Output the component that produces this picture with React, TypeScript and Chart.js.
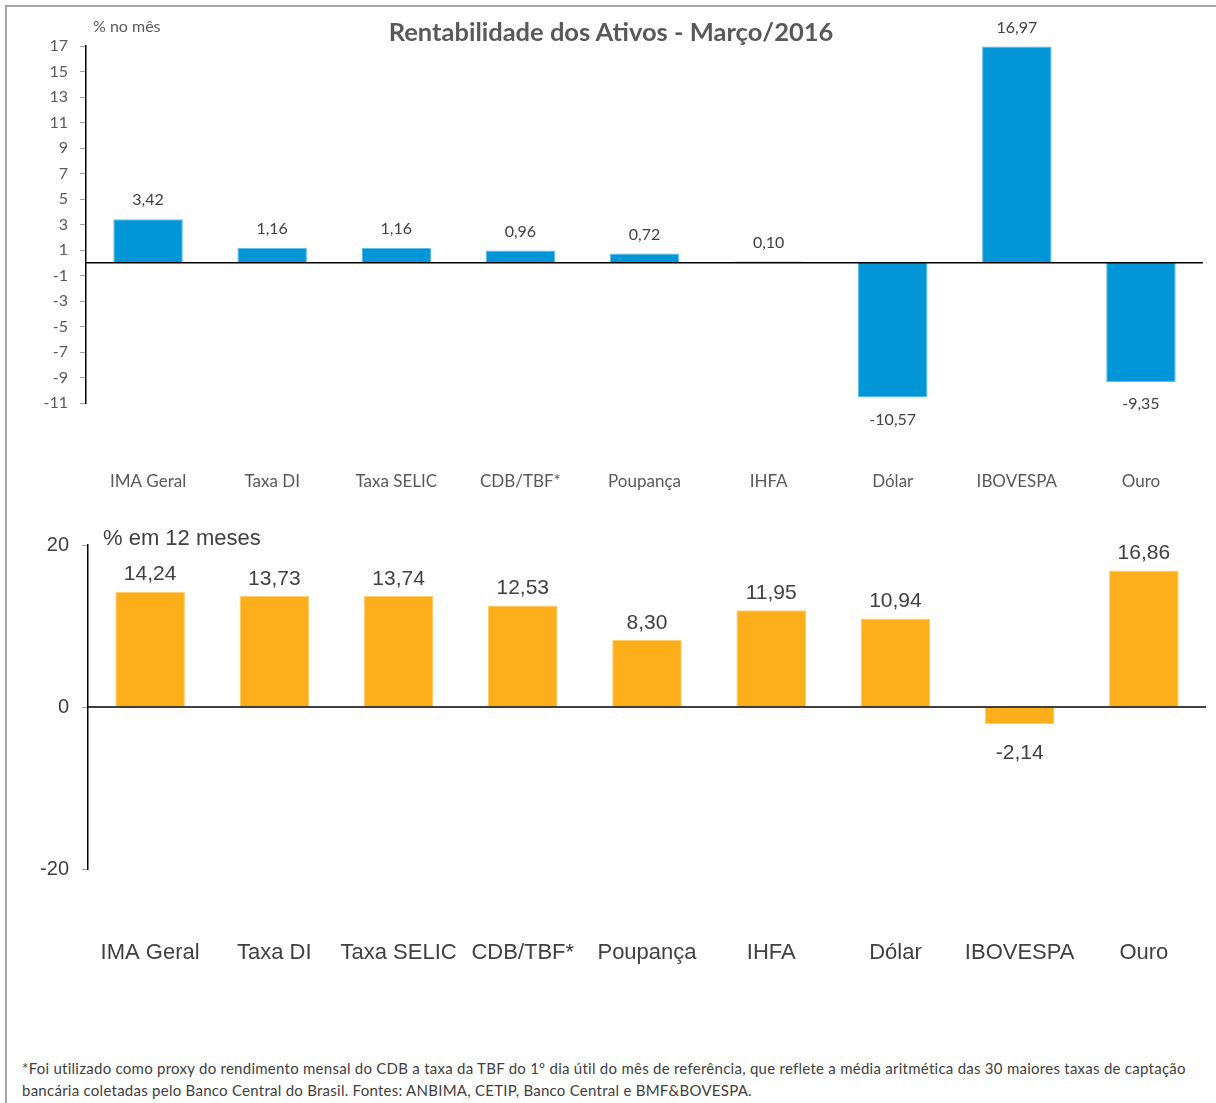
import React, { useEffect, useRef } from "react";
import { Chart, registerables } from "chart.js";

Chart.register(...registerables);

const categories = [
  "IMA Geral",
  "Taxa DI",
  "Taxa SELIC",
  "CDB/TBF*",
  "Poupança",
  "IHFA",
  "Dólar",
  "IBOVESPA",
  "Ouro",
];
const monthValues = [3.42, 1.16, 1.16, 0.96, 0.72, 0.1, -10.57, 16.97, -9.35];
const yearValues = [14.24, 13.73, 13.74, 12.53, 8.3, 11.95, 10.94, -2.14, 16.86];

const monthAxisMin = -11;
const monthAxisMax = 17;
const monthAxisStep = 2;
const yearAxisMin = -20;
const yearAxisMax = 20;
const yearAxisStep = 20;

const titleText = "Rentabilidade dos Ativos - Março/2016";
const monthUnit = "% no mês";
const yearUnit = "% em 12 meses";
const footnoteLines = [
  "*Foi utilizado como proxy do rendimento mensal do CDB a taxa da TBF do 1º dia útil do mês de referência, que reflete a média aritmética das 30 maiores taxas de captação",
  "bancária coletadas pelo Banco Central do Brasil. Fontes: ANBIMA, CETIP, Banco Central e BMF&BOVESPA.",
];

const CAL = "Lato, 'Open Sans', sans-serif";
const ARIAL = "'Liberation Sans', Arial, sans-serif";

function fmt(v: number) {
  return v.toFixed(2).replace(".", ",");
}

function makePlugin(o: { font: string; color: string; above: number; below: number }) {
  return {
    id: "zeroAndLabels",
    afterDatasetsDraw(chart: any) {
      const { ctx, chartArea, scales } = chart;
      const y0 = scales.y.getPixelForValue(0);
      ctx.save();
      ctx.strokeStyle = "#000";
      ctx.lineWidth = 1.5;
      ctx.beginPath();
      ctx.moveTo(chartArea.left, y0);
      ctx.lineTo(chartArea.right, y0);
      ctx.stroke();
      const meta = chart.getDatasetMeta(0);
      const data = chart.data.datasets[0].data as number[];
      ctx.font = o.font;
      ctx.fillStyle = o.color;
      ctx.textAlign = "center";
      ctx.textBaseline = "middle";
      meta.data.forEach((bar: any, i: number) => {
        const v = data[i];
        const y = v >= 0 ? bar.y - o.above : bar.y + o.below;
        ctx.fillText(fmt(v), bar.x, y);
      });
      ctx.restore();
    },
  };
}

type Cfg = {
  values: number[];
  color: string;
  edge: string;
  min: number;
  max: number;
  step: number;
  yWidth: number;
  xHeight: number;
  padTop: number;
  padRight: number;
  xDrop: number;
  xFont: any;
  xColor: string;
  yFont: any;
  yColor: string;
  yPad: number;
  label: { font: string; color: string; above: number; below: number };
};

function build(canvas: HTMLCanvasElement, c: Cfg) {
  return new Chart(canvas, {
    type: "bar",
    data: {
      labels: categories,
      datasets: [
        {
          data: c.values,
          backgroundColor: c.color,
          borderColor: c.edge,
          borderWidth: 1,
          barPercentage: 0.56,
          categoryPercentage: 1,
        },
      ],
    },
    options: {
      responsive: false,
      maintainAspectRatio: false,
      animation: false,
      layout: { padding: { left: 0, top: c.padTop, right: c.padRight, bottom: 0 } },
      plugins: { legend: { display: false }, tooltip: { enabled: false }, title: { display: false } },
      scales: {
        x: {
          grid: {
            display: true,
            drawOnChartArea: false,
            drawTicks: true,
            tickLength: c.xDrop,
            color: "rgba(0,0,0,0)",
            tickColor: "rgba(0,0,0,0)",
          },
          border: { display: false },
          ticks: {
            padding: 0,
            font: c.xFont,
            color: c.xColor,
            maxRotation: 0,
            minRotation: 0,
            autoSkip: false,
          },
          afterFit: (s: any) => {
            s.height = c.xHeight;
          },
        },
        y: {
          min: c.min,
          max: c.max,
          ticks: {
            stepSize: c.step,
            font: c.yFont,
            color: c.yColor,
            padding: c.yPad,
            callback: (v: any) => String(v),
          },
          grid: { drawOnChartArea: false, drawTicks: true, tickLength: 6, tickColor: "#a0a0a0" },
          border: { display: true, color: "#000", width: 1.5 },
          afterFit: (s: any) => {
            s.width = c.yWidth;
          },
        },
      },
    } as any,
    plugins: [makePlugin(c.label)],
  });
}

export default function App() {
  const topRef = useRef<HTMLCanvasElement>(null);
  const botRef = useRef<HTMLCanvasElement>(null);

  useEffect(() => {
    const a = build(topRef.current!, {
      values: monthValues,
      color: "#0096D8",
      edge: "#62BDE8",
      min: monthAxisMin,
      max: monthAxisMax,
      step: monthAxisStep,
      yWidth: 86,
      xHeight: 97,
      padTop: 46,
      padRight: 13,
      xDrop: 68,
      xFont: { family: CAL, size: 17 },
      xColor: "#595959",
      yFont: { family: CAL, size: 16 },
      yColor: "#595959",
      yPad: 12,
      label: { font: `16px ${CAL}`, color: "#404040", above: 19, below: 22 },
    });
    const b = build(botRef.current!, {
      values: yearValues,
      color: "#FCAF1A",
      edge: "#FDCB6A",
      min: yearAxisMin,
      max: yearAxisMax,
      step: yearAxisStep,
      yWidth: 88,
      xHeight: 131,
      padTop: 45,
      padRight: 10,
      xDrop: 71,
      xFont: { family: ARIAL, size: 22 },
      xColor: "#404040",
      yFont: { family: ARIAL, size: 20 },
      yColor: "#404040",
      yPad: 13,
      label: { font: `21px ${ARIAL}`, color: "#404040", above: 17, below: 29 },
    });
    return () => {
      a.destroy();
      b.destroy();
    };
  }, []);

  return (
    <div
      style={{
        position: "absolute",
        left: 0,
        top: 0,
        width: 1216,
        height: 1103,
        background: "#fff",
        overflow: "hidden",
      }}
    >
      <div
        style={{
          position: "absolute",
          left: 5,
          top: 5,
          width: 1300,
          height: 1200,
          borderTop: "2px solid #a6a6a6",
          borderLeft: "2px solid #a6a6a6",
        }}
      />
      <canvas
        ref={topRef}
        width={1216}
        height={500}
        style={{ position: "absolute", left: 0, top: 0, display: "block" }}
      />
      <canvas
        ref={botRef}
        width={1216}
        height={500}
        style={{ position: "absolute", left: 0, top: 500, display: "block" }}
      />
      <div
        style={{
          position: "absolute",
          left: 0,
          width: 1222,
          top: 15,
          textAlign: "center",
          font: `bold 25.5px ${CAL}`,
          color: "#595959",
          lineHeight: "32px",
        }}
      >
        {titleText}
      </div>
      <div
        style={{
          position: "absolute",
          left: 93,
          top: 15,
          font: `16px ${CAL}`,
          color: "#595959",
          lineHeight: "22px",
        }}
      >
        {monthUnit}
      </div>
      <div
        style={{
          position: "absolute",
          left: 103,
          top: 524,
          font: `22px ${ARIAL}`,
          color: "#404040",
          lineHeight: "28px",
        }}
      >
        {yearUnit}
      </div>
      {footnoteLines.map((t, i) => (
        <div
          key={i}
          style={{
            position: "absolute",
            left: 22,
            top: 1057 + i * 22,
            font: `15px ${CAL}`,
            letterSpacing: "0.26px",
            color: "#404040",
            lineHeight: "22px",
            whiteSpace: "nowrap",
          }}
        >
          {t}
        </div>
      ))}
    </div>
  );
}
